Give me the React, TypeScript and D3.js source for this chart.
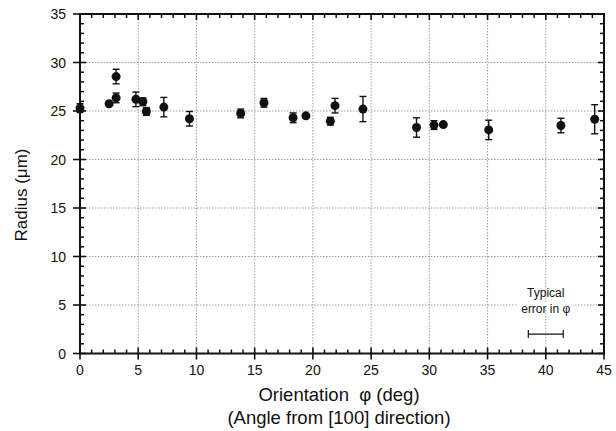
import React, { useRef, useEffect } from 'react'
import * as d3 from 'd3'

// orientation (deg), radius (um), error (um)
const phi = [0, 2.5, 3.1, 3.1, 4.8, 5.4, 5.7, 7.2, 9.4, 13.8, 15.8, 18.3, 19.4, 21.5, 21.9, 24.3, 28.9, 30.4, 31.2, 35.1, 41.3, 44.2]
const radius = [25.3, 25.75, 28.55, 26.35, 26.2, 25.95, 24.95, 25.4, 24.2, 24.75, 25.85, 24.3, 24.5, 23.95, 25.55, 25.2, 23.3, 23.55, 23.6, 23.05, 23.5, 24.15]
const radiusErr = [0.45, 0, 0.75, 0.5, 0.75, 0.4, 0.4, 1.0, 0.75, 0.45, 0.45, 0.5, 0, 0.4, 0.75, 1.3, 1.0, 0.45, 0, 1.0, 0.75, 1.5]

const xTicks = [0, 5, 10, 15, 20, 25, 30, 35, 40, 45]
const yTicks = [0, 5, 10, 15, 20, 25, 30, 35]

// typical phi error marker
const typicalPhi = 40
const typicalPhiErr = 1.5
const typicalY = 2

const App = () => {
    const ref = useRef<SVGSVGElement>(null)

    useEffect(() => {
        const W = 616
        const H = 431
        const m = { left: 80, right: 12, top: 14, bottom: 77.5 }
        const font = "'Liberation Sans', Arial, Helvetica, sans-serif"

        const svg = d3.select(ref.current)
        svg.selectAll('*').remove()
        svg.attr('width', W).attr('height', H).style('background', 'white')

        const x = d3.scaleLinear().domain([0, 45]).range([m.left, W - m.right])
        const y = d3.scaleLinear().domain([0, 35]).range([H - m.bottom, m.top])
        const [x0, x1] = x.range()
        const [y0, y1] = y.range()

        const g = svg.append('g')

        // dotted grid
        g.selectAll('.gx')
            .data(xTicks.slice(1, -1))
            .join('line')
            .attr('x1', d => x(d)).attr('x2', d => x(d))
            .attr('y1', y0).attr('y2', y1)
            .attr('stroke', '#888').attr('stroke-width', 0.8)
            .attr('stroke-dasharray', '1.5,1.5')
        g.selectAll('.gy')
            .data(yTicks.slice(1, -1))
            .join('line')
            .attr('x1', x0).attr('x2', x1)
            .attr('y1', d => y(d)).attr('y2', d => y(d))
            .attr('stroke', '#888').attr('stroke-width', 0.8)
            .attr('stroke-dasharray', '1.5,1.5')

        // minor ticks (inward), every 1 unit
        const minorX = d3.range(0, 46).filter(d => d % 5 !== 0)
        const minorY = d3.range(0, 36).filter(d => d % 5 !== 0)
        const tk = 4
        const axisColor = '#111'
        minorX.forEach(d => {
            g.append('line').attr('x1', x(d)).attr('x2', x(d)).attr('y1', y0).attr('y2', y0 - tk).attr('stroke', axisColor).attr('stroke-width', 1.5)
            g.append('line').attr('x1', x(d)).attr('x2', x(d)).attr('y1', y1).attr('y2', y1 + tk).attr('stroke', axisColor).attr('stroke-width', 1.5)
        })
        minorY.forEach(d => {
            g.append('line').attr('x1', x0).attr('x2', x0 + tk).attr('y1', y(d)).attr('y2', y(d)).attr('stroke', axisColor).attr('stroke-width', 1.5)
            g.append('line').attr('x1', x1).attr('x2', x1 - tk).attr('y1', y(d)).attr('y2', y(d)).attr('stroke', axisColor).attr('stroke-width', 1.5)
        })
        // major ticks, crossing the frame
        xTicks.forEach(d => {
            g.append('line').attr('x1', x(d)).attr('x2', x(d)).attr('y1', y0 + 6).attr('y2', y0 - 6).attr('stroke', axisColor).attr('stroke-width', 1.6)
            g.append('line').attr('x1', x(d)).attr('x2', x(d)).attr('y1', y1).attr('y2', y1 + 6).attr('stroke', axisColor).attr('stroke-width', 1.6)
        })
        yTicks.forEach(d => {
            g.append('line').attr('x1', x0 - 7).attr('x2', x0 + 6).attr('y1', y(d)).attr('y2', y(d)).attr('stroke', axisColor).attr('stroke-width', 1.6)
            g.append('line').attr('x1', x1).attr('x2', x1 - 6).attr('y1', y(d)).attr('y2', y(d)).attr('stroke', axisColor).attr('stroke-width', 1.6)
        })

        // frame
        g.append('rect')
            .attr('x', x0).attr('y', y1)
            .attr('width', x1 - x0).attr('height', y0 - y1)
            .attr('fill', 'none').attr('stroke', axisColor).attr('stroke-width', 2)

        // tick labels
        g.selectAll('.xl')
            .data(xTicks)
            .join('text')
            .attr('x', d => x(d)).attr('y', y0 + 21)
            .attr('text-anchor', 'middle')
            .style('font-family', font).style('font-size', '14px').attr('fill', '#111')
            .text(d => d)
        g.selectAll('.yl')
            .data(yTicks)
            .join('text')
            .attr('x', x0 - 14).attr('y', d => y(d) + 5)
            .attr('text-anchor', 'end')
            .style('font-family', font).style('font-size', '14px').attr('fill', '#111')
            .text(d => d)

        // axis titles
        g.append('text')
            .attr('transform', `translate(27, 195) rotate(-90)`)
            .attr('text-anchor', 'middle')
            .style('font-family', font).style('font-size', '17px').attr('fill', '#111')
            .text('Radius (μm)')
        g.append('text')
            .attr('x', 339).attr('y', 401)
            .attr('text-anchor', 'middle')
            .style('font-family', font).style('font-size', '18.5px').attr('fill', '#111')
            .attr('xml:space', 'preserve')
            .text('Orientation  φ (deg)')
        g.append('text')
            .attr('x', 339).attr('y', 424)
            .attr('text-anchor', 'middle')
            .style('font-family', font).style('font-size', '18.5px').attr('fill', '#111')
            .text('(Angle from [100] direction)')

        // error bars
        const pts = phi.map((p, i) => ({ p, r: radius[i], e: radiusErr[i] }))
        const cap = 3.5
        const eb = g.append('g').attr('stroke', '#111').attr('stroke-width', 1.4)
        pts.filter(d => d.e > 0).forEach(d => {
            eb.append('line').attr('x1', x(d.p)).attr('x2', x(d.p)).attr('y1', y(d.r - d.e)).attr('y2', y(d.r + d.e))
            eb.append('line').attr('x1', x(d.p) - cap).attr('x2', x(d.p) + cap).attr('y1', y(d.r - d.e)).attr('y2', y(d.r - d.e))
            eb.append('line').attr('x1', x(d.p) - cap).attr('x2', x(d.p) + cap).attr('y1', y(d.r + d.e)).attr('y2', y(d.r + d.e))
        })

        // points
        g.selectAll('.pt')
            .data(pts)
            .join('circle')
            .attr('cx', d => x(d.p)).attr('cy', d => y(d.r))
            .attr('r', 4.5)
            .attr('fill', '#111')

        // typical error in phi
        const ty = y(typicalY)
        const te = g.append('g').attr('stroke', '#111').attr('stroke-width', 1.2)
        te.append('line').attr('x1', x(typicalPhi - typicalPhiErr)).attr('x2', x(typicalPhi + typicalPhiErr)).attr('y1', ty).attr('y2', ty)
        te.append('line').attr('x1', x(typicalPhi - typicalPhiErr)).attr('x2', x(typicalPhi - typicalPhiErr)).attr('y1', ty - 4).attr('y2', ty + 4)
        te.append('line').attr('x1', x(typicalPhi + typicalPhiErr)).attr('x2', x(typicalPhi + typicalPhiErr)).attr('y1', ty - 4).attr('y2', ty + 4)
        g.append('rect')
            .attr('x', x(typicalPhi) - 28).attr('y', y(5) - 3)
            .attr('width', 56).attr('height', 6)
            .attr('fill', 'white')
        g.append('text')
            .attr('x', x(typicalPhi)).attr('y', 297)
            .attr('text-anchor', 'middle')
            .style('font-family', font).style('font-size', '12px').attr('fill', '#111')
            .text('Typical')
        g.append('text')
            .attr('x', x(typicalPhi)).attr('y', 313)
            .attr('text-anchor', 'middle')
            .style('font-family', font).style('font-size', '12px').attr('fill', '#111')
            .text('error in φ')
    }, [])

    return (
        <div style={{ position: 'absolute', left: 0, top: 0 }}>
            <svg ref={ref} style={{ display: 'block' }}></svg>
        </div>
    )
}

export default App
